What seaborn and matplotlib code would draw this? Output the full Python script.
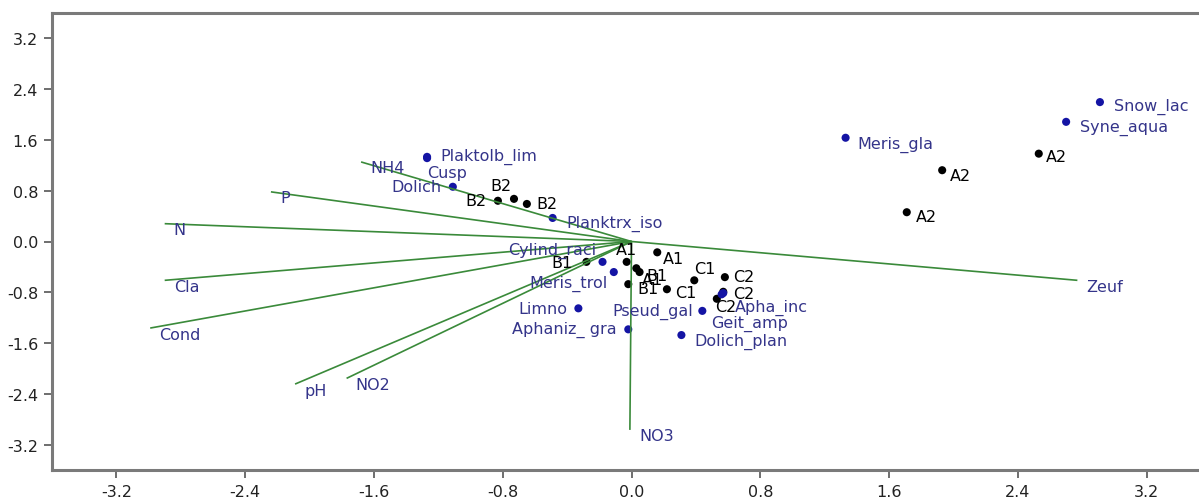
import numpy as np
import pandas as pd
import matplotlib
matplotlib.use("Agg")
import matplotlib.pyplot as plt
import seaborn as sns

# ---------------- data ----------------
# environmental variables (biplot vectors, end points)
env_names = ["NH4", "P", "N", "Cla", "Cond", "pH", "NO2", "NO3", "Zeuf"]
env_x = [-1.68, -2.24, -2.90, -2.90, -2.99, -2.09, -1.77, -0.01, 2.77]
env_y = [1.25, 0.78, 0.28, -0.61, -1.36, -2.24, -2.15, -2.96, -0.61]

# sites (black points)
site_names = ["A1", "A1", "A1", "A2", "A2", "A2", "B1", "B1", "B1",
              "B2", "B2", "B2", "C1", "C1", "C2", "C2", "C2"]
site_x = [0.16, -0.03, 0.03, 2.53, 1.93, 1.71, -0.28, 0.05, -0.02,
          -0.83, -0.73, -0.65, 0.22, 0.39, 0.58, 0.57, 0.53]
site_y = [-0.17, -0.32, -0.42, 1.38, 1.12, 0.46, -0.32, -0.48, -0.67,
          0.64, 0.67, 0.59, -0.75, -0.61, -0.56, -0.79, -0.90]

# species (blue points)
sp_names = ["Snow_lac", "Syne_aqua", "Meris_gla", "Plaktolb_lim", "Cusp",
            "Dolich", "Planktrx_iso", "Cylind_raci", "Meris_trol", "Limno",
            "Aphaniz_ gra", "Pseud_gal", "Dolich_plan", "Apha_inc", "Geit_amp"]
sp_x = [2.91, 2.70, 1.33, -1.27, -1.27, -1.11, -0.49, -0.18, -0.11, -0.33,
        -0.02, 0.44, 0.31, 0.57, 0.56]
sp_y = [2.19, 1.88, 1.63, 1.33, 1.31, 0.86, 0.37, -0.32, -0.48, -1.05,
        -1.38, -1.09, -1.47, -0.81, -0.83]

ticks = [-3.2, -2.4, -1.6, -0.8, 0.0, 0.8, 1.6, 2.4, 3.2]
tick_labels = ["-3.2", "-2.4", "-1.6", "-0.8", "0.0", "0.8", "1.6", "2.4", "3.2"]

# ---------------- label placement (style: pixel offsets, dx right, dy down) ----
site_lab_style = [(6, 6, "left"), (0, -12, "center"), (6, 11, "left"),
                  (7, 3, "left"), (8, 5, "left"), (9, 4, "left"),
                  (-14, 1, "right"), (7, 3, "left"), (9, 4, "left"),
                  (-11, 0, "right"), (-2, -13, "right"), (10, 0, "left"),
                  (8, 3, "left"), (0, -12, "left"),
                  (8, -1, "left"), (10, 2, "left"), (-2, 8, "left")]
sp_lab_style = [(14, 4, "left"), (14, 5, "left"), (12, 6, "left"),
                (13, -1, "left"), (0, 14, "left"), (-11, 0, "right"),
                (14, 5, "left"), (-6, -12, "right"), (-6, 11, "right"),
                (-11, 0, "right"), (-12, 0, "right"), (-9, 0, "right"),
                (13, 6, "left"), (12, 14, "left"), (-11, 29, "left")]

# ---------------- styling ----------------
sns.set_style("white")
plt.rcParams["font.family"] = ["DejaVu Sans"]

GREEN = "#3a8a3a"
NAVY_TXT = "#34348a"
BLUE_PT = "#1414a4"
SPINE = "#7a7a7a"
FS = 11.5

fig = plt.figure(figsize=(11.99, 5.02), dpi=100)
ax = fig.add_axes([52 / 1199, 31 / 502, 1159 / 1199, 457 / 502])

sites = pd.DataFrame({"x": site_x, "y": site_y, "name": site_names})
species = pd.DataFrame({"x": sp_x, "y": sp_y, "name": sp_names})

sns.scatterplot(data=sites, x="x", y="y", ax=ax, color="black", s=34,
                edgecolor="none", zorder=3, legend=False)
sns.scatterplot(data=species, x="x", y="y", ax=ax, color=BLUE_PT, s=34,
                edgecolor="none", zorder=3, legend=False)

# environmental vectors from origin
for nx, ny in zip(env_x, env_y):
    ax.plot([0, nx], [0, ny], color=GREEN, lw=1.2, zorder=4,
            solid_capstyle="butt")

for name, nx, ny in zip(env_names, env_x, env_y):
    ax.annotate(name, (nx, ny), xytext=(9, -6), textcoords="offset pixels",
                ha="left", va="center", fontsize=FS, color=NAVY_TXT, zorder=5)

for (name, px, py), (dx, dy, ha) in zip(zip(site_names, site_x, site_y), site_lab_style):
    ax.annotate(name, (px, py), xytext=(dx, -dy), textcoords="offset pixels",
                ha=ha, va="center", fontsize=FS, color="black", zorder=5)

for (name, px, py), (dx, dy, ha) in zip(zip(sp_names, sp_x, sp_y), sp_lab_style):
    ax.annotate(name, (px, py), xytext=(dx, -dy), textcoords="offset pixels",
                ha=ha, va="center", fontsize=FS, color=NAVY_TXT, zorder=5)

ax.set_xlim(-3.6, 3.6)
ax.set_ylim(-3.59, 3.59)
ax.set_xticks(ticks)
ax.set_xticklabels(tick_labels)
ax.set_yticks(ticks)
ax.set_yticklabels(tick_labels)
ax.set_xlabel("")
ax.set_ylabel("")

for side in ["left", "bottom", "top"]:
    ax.spines[side].set_visible(True)
    ax.spines[side].set_color(SPINE)
    ax.spines[side].set_linewidth(2.2)
ax.spines["right"].set_visible(False)

ax.tick_params(axis="both", direction="out", length=6, width=1.2,
               color="#555555", labelsize=FS, labelcolor="#222222", pad=4)
ax.tick_params(axis="x", bottom=True, top=False)
ax.tick_params(axis="y", left=True, right=False)
ax.grid(False)

fig.savefig("out.png", dpi=100)
